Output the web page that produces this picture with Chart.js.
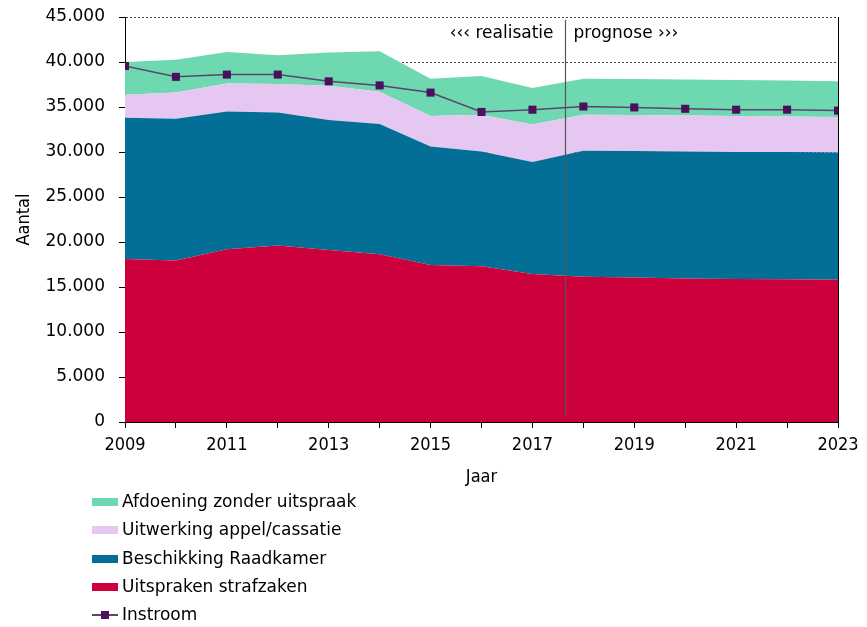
<!DOCTYPE html>
<html>
<head>
<meta charset="utf-8">
<script src="https://cdn.jsdelivr.net/npm/chart.js@4.4.0/dist/chart.umd.min.js"></script>
<style>
  html, body { margin: 0; padding: 0; background: #fff; }
  #wrap { position: relative; width: 867px; height: 627px; }
  #legend { position: absolute; left: 92px; top: 0; font-family: "DejaVu Sans", Verdana, sans-serif; font-size: 17px; color: #000; }
  .item { position: absolute; left: 0; height: 20px; white-space: nowrap; }
  .sw { position: absolute; left: 0; top: 6px; width: 26px; height: 8px; }
  .txt { position: absolute; left: 30px; top: -1px; line-height: 20px; }
  .ln { position: absolute; left: 0; top: 9px; width: 26px; height: 2px; }
  .mk { position: absolute; left: 9px; top: 6px; width: 8px; height: 8px; }
</style>
</head>
<body>
<div id="wrap">
  <canvas id="c" width="867" height="627"></canvas>
  <div id="legend"></div>
</div>
<script>
const years = [2009,2010,2011,2012,2013,2014,2015,2016,2017,2018,2019,2020,2021,2022,2023];
const uitsprakenStrafzaken = [18100,17950,19200,19600,19100,18650,17450,17300,16450,16150,16050,15950,15900,15850,15800];
const beschikkingRaadkamer = [15700,15750,15300,14800,14450,14450,13150,12750,12450,14000,14050,14100,14100,14150,14150];
const uitwerkingAppel = [2550,2900,3100,3150,3800,3600,3400,4100,4150,4000,4000,4000,4000,3950,3950];
const afdoeningZonder = [3650,3650,3500,3200,3700,4500,4150,4300,4050,4000,4000,4000,4000,4000,3950];
const instroom = [39550,38350,38600,38600,37850,37400,36600,34450,34700,35050,34950,34800,34700,34700,34600];
const yTicks = [0,5000,10000,15000,20000,25000,30000,35000,40000,45000];
const splitYear = 2017.64;
const labelLeft = "‹‹‹ realisatie";
const labelRight = "prognose ›››";

const colors = {
  red: '#CC003B',
  blue: '#036F96',
  lilac: '#E6C7F2',
  green: '#6ED9B0',
  instroom: '#4A105E',
  instroomLine: '#5C4370'
};

const pts = arr => arr.map((v, i) => ({x: years[i], y: v}));
const fmt = v => String(v).replace(/\B(?=(\d{3})+(?!\d))/g, '.');

const overlay = {
  id: 'overlay',
  afterDatasetsDraw(chart) {
    const {ctx, chartArea: a, scales: {x, y}} = chart;
    ctx.save();
    ctx.strokeStyle = '#000';
    ctx.lineWidth = 1;
    ctx.beginPath();
    ctx.moveTo(a.right + 0.5, a.top);
    ctx.lineTo(a.right + 0.5, a.bottom);
    ctx.stroke();
    const sx = Math.round(x.getPixelForValue(splitYear)) + 0.5;
    ctx.strokeStyle = '#555';
    ctx.lineWidth = 1.2;
    ctx.beginPath();
    ctx.moveTo(sx, y.getPixelForValue(44700));
    ctx.lineTo(sx, y.getPixelForValue(600));
    ctx.stroke();
    ctx.fillStyle = '#000';
    ctx.font = '17px "DejaVu Sans", Verdana, sans-serif';
    ctx.textBaseline = 'middle';
    const ty = y.getPixelForValue(43200);
    ctx.textAlign = 'right';
    ctx.fillText(labelLeft, sx - 12, ty);
    ctx.textAlign = 'left';
    ctx.fillText(labelRight, sx + 8, ty);
    ctx.restore();
  }
};

const narrow = '"Liberation Sans Narrow", "DejaVu Sans Condensed", "Arial Narrow", sans-serif';

new Chart(document.getElementById('c'), {
  type: 'line',
  data: {
    datasets: [
      { label: 'Uitspraken strafzaken', data: pts(uitsprakenStrafzaken), backgroundColor: colors.red, borderWidth: 0, pointRadius: 0, fill: 'origin', stack: 'a', order: 1 },
      { label: 'Beschikking Raadkamer', data: pts(beschikkingRaadkamer), backgroundColor: colors.blue, borderWidth: 0, pointRadius: 0, fill: '-1', stack: 'a', order: 1 },
      { label: 'Uitwerking appel/cassatie', data: pts(uitwerkingAppel), backgroundColor: colors.lilac, borderWidth: 0, pointRadius: 0, fill: '-1', stack: 'a', order: 1 },
      { label: 'Afdoening zonder uitspraak', data: pts(afdoeningZonder), backgroundColor: colors.green, borderWidth: 0, pointRadius: 0, fill: '-1', stack: 'a', order: 1 },
      { label: 'Instroom', data: pts(instroom), borderColor: colors.instroomLine, borderWidth: 1.5, pointStyle: 'rect', pointRadius: 5.7, pointBackgroundColor: colors.instroom, pointBorderColor: colors.instroom, pointBorderWidth: 0, fill: false, stack: 'b', order: -1, tension: 0 }
    ]
  },
  options: {
    responsive: false,
    animation: false,
    devicePixelRatio: 1,
    layout: { padding: { top: 17, right: 29, bottom: 130, left: 0 } },
    plugins: { legend: { display: false }, tooltip: { enabled: false } },
    elements: { line: { tension: 0 } },
    scales: {
      x: {
        type: 'linear', min: 2009, max: 2023,
        afterFit(s) { s.height = 75; s.paddingLeft = 0; s.paddingRight = 0; },
        afterBuildTicks(s) { s.ticks = years.map(v => ({value: v})); },
        ticks: {
          stepSize: 1, autoSkip: false, maxRotation: 0, padding: 7, color: '#000',
          font: { family: narrow, size: 18 },
          callback: v => (v % 2 === 1 ? String(v) : '')
        },
        grid: { display: true, drawOnChartArea: false, drawTicks: true, tickLength: 6, tickColor: '#000', color: '#000' },
        border: { display: true, color: '#000', width: 1 },
        title: { display: true, text: 'Jaar', color: '#000', font: { family: narrow, size: 18 }, padding: { top: 0, bottom: 9 } }
      },
      y: {
        stacked: true, min: 0, max: 45000,
        afterFit(s) { s.width = 125; s.paddingTop = 0; s.paddingBottom = 0; },
        afterBuildTicks(s) { s.ticks = yTicks.map(v => ({value: v})); },
        ticks: { stepSize: 5000, padding: 14, color: '#000', font: { family: '"DejaVu Sans", Verdana, sans-serif', size: 17 }, callback: v => fmt(v) },
        grid: { display: true, drawOnChartArea: true, color: '#444', lineWidth: 1, tickLength: 6, tickColor: '#000', tickBorderDash: [] },
        border: { display: true, color: '#000', width: 1, dash: [2, 2] },
        title: { display: true, text: 'Aantal', color: '#000', font: { family: narrow, size: 18 }, padding: { top: 14, bottom: 0 } }
      }
    }
  },
  plugins: [overlay]
});

const legendItems = [
  { label: 'Afdoening zonder uitspraak', color: colors.green, type: 'box' },
  { label: 'Uitwerking appel/cassatie', color: colors.lilac, type: 'box' },
  { label: 'Beschikking Raadkamer', color: colors.blue, type: 'box' },
  { label: 'Uitspraken strafzaken', color: colors.red, type: 'box' },
  { label: 'Instroom', color: colors.instroom, type: 'line' }
];
const legendRowCenters = [502, 530.3, 558.7, 587, 615.3];
const lg = document.getElementById('legend');
legendItems.forEach((it, i) => {
  const d = document.createElement('div');
  d.className = 'item';
  d.style.top = (legendRowCenters[i] - 10) + 'px';
  if (it.type === 'box') {
    d.innerHTML = '<div class="sw" style="background:' + it.color + '"></div>';
  } else {
    d.innerHTML = '<div class="ln" style="background:' + colors.instroomLine + ';height:1.5px"></div><div class="mk" style="background:' + it.color + '"></div>';
  }
  const t = document.createElement('div');
  t.className = 'txt';
  t.textContent = it.label;
  d.appendChild(t);
  lg.appendChild(d);
});
</script>
</body>
</html>
